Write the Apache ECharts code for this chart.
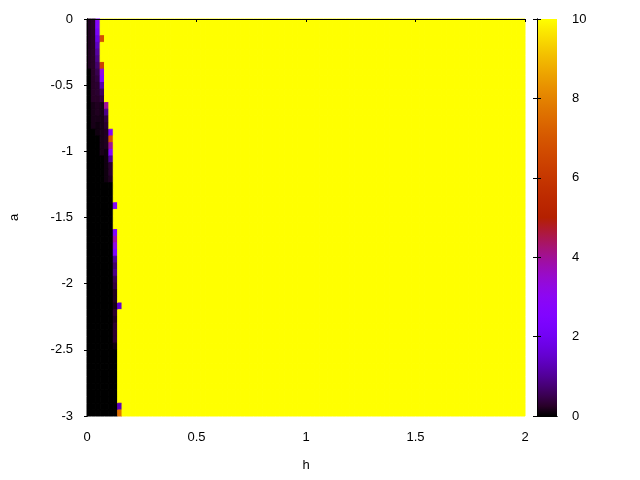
<!DOCTYPE html>
<html>
<head>
<meta charset="utf-8">
<script src="https://cdn.jsdelivr.net/npm/echarts@6/dist/echarts.min.js"></script>
<style>
  html, body { margin: 0; padding: 0; background: #fff; }
  #chart { width: 640px; height: 480px; }
</style>
</head>
<body>
<div id="chart"></div>
<script>
// grid of the map: h columns of width H_STEP, a rows centred on -m*A_STEP
var H_STEP = 0.02;
var A_STEP = 0.0505;
var N_COLS = 100;
var N_ROWS = 60;
var FAR_VALUE = 10; // everything right of the dark band is saturated

// values of the first 8 h-columns, top row (a=0) first
var col0 = [
  0.2,0.2,0.2,0.2,0.2,0.2,0.2,0.2,0,0,
  0,0,0,0,0,0,0,0,0,0,
  0,0,0,0,0,0,0,0,0,0,
  0,0,0,0,0,0,0,0,0,0,
  0,0,0,0,0,0,0,0,0,0,
  0,0,0,0,0,0,0,0,0,0
];
var col1 = [
  0.25,0.25,0.25,0.25,0.25,0.25,0.25,0.25,0.25,0.25,
  0.25,0.25,0.25,0.15,0.15,0.15,0.15,0,0,0,
  0,0,0,0,0,0,0,0,0,0,
  0,0,0,0,0,0,0,0,0,0,
  0,0,0,0,0,0,0,0,0,0,
  0,0,0,0,0,0,0,0,0,0
];
var col2 = [
  2.8,2.6,2.2,1.8,1.4,1.1,0.9,0.7,0.5,0.4,
  0.3,0.3,0.25,0.2,0.2,0.15,0.1,0.1,0,0,
  0,0,0,0,0,0,0,0,0,0,
  0,0,0,0,0,0,0,0,0,0,
  0,0,0,0,0,0,0,0,0,0,
  0,0,0,0,0,0,0,0,0,0
];
var col3 = [
  10,10,10,6.8,10,10,10,6.4,3.2,2.6,
  1.2,0.6,0.4,0.15,0.15,0.15,0.15,0.15,0.15,0.15,
  0.15,0,0,0,0,0,0,0,0,0,
  0,0,0,0,0,0,0,0,0,0,
  0,0,0,0,0,0,0,0,0,0,
  0,0,0,0,0,0,0,0,0,0
];
var col4 = [
  10,10,10,10,10,10,10,10,10,10,
  10,10,10,4.0,0.9,0.4,0.3,0.2,0.2,0.2,
  0.1,0.1,0.1,0.1,0.1,0,0,0,0,0,
  0,0,0,0,0,0,0,0,0,0,
  0,0,0,0,0,0,0,0,0,0,
  0,0,0,0,0,0,0,0,0,0
];
var col5 = [
  10,10,10,10,10,10,10,10,10,10,
  10,10,10,10,10,10,10,2.6,7.0,4.0,
  2.7,1.0,0.3,0.3,0.2,0,0,0,0,0,
  0,0,0,0,0,0,0,0,0,0,
  0,0,0,0,0,0,0,0,0,0,
  0,0,0,0,0,0,0,0,0,0
];
var col6 = [
  10,10,10,10,10,10,10,10,10,10,
  10,10,10,10,10,10,10,10,10,10,
  10,10,10,10,10,10,10,10,2.7,10,
  10,10,2.6,3.8,3.2,2.5,1.0,0.7,0.9,0.5,
  0.4,0.2,0.2,0.15,0.3,0.2,0.3,0.3,0.3,0.1,
  0,0,0,0,0,0,0,0,0,0
];
var col7 = [
  10,10,10,10,10,10,10,10,10,10,
  10,10,10,10,10,10,10,10,10,10,
  10,10,10,10,10,10,10,10,10,10,
  10,10,10,10,10,10,10,10,10,10,
  10,10,10,1.6,10,10,10,10,10,10,
  10,10,10,10,10,10,10,10,1.3,7.6
];
var leftCols = [col0, col1, col2, col3, col4, col5, col6, col7];

// gnuplot default palette (rgbformulae 7,5,15)
function pal(x) {
  var r = Math.sqrt(x), g = x * x * x, b = Math.max(0, Math.sin(2 * Math.PI * x));
  return 'rgb(' + Math.round(255 * r) + ',' + Math.round(255 * g) + ',' + Math.round(255 * b) + ')';
}
var palColors = [];
var gradStops = [];
for (var i = 0; i <= 40; i++) {
  palColors.push(pal(i / 40));
  gradStops.push({ offset: i / 40, color: pal(i / 40) });
}

var cells = [];
for (var k = 0; k < N_COLS; k++) {
  for (var m = 0; m < N_ROWS; m++) {
    var v = k < leftCols.length ? leftCols[k][m] : FAR_VALUE;
    cells.push([k * H_STEP, -m * A_STEP, v]);
  }
}

var font = { color: '#000', fontFamily: 'Liberation Sans', fontSize: 13 };
var lineBlack = { show: true, lineStyle: { color: '#000', width: 1 } };

var chart = echarts.init(document.getElementById('chart'));
chart.setOption({
  animation: false,
  backgroundColor: '#fff',
  grid: [
    { left: 85, top: 19, width: 440, height: 397 },
    { left: 537, top: 19, width: 20, height: 397 }
  ],
  xAxis: [
    {
      gridIndex: 0, type: 'value', min: 0, max: 2, interval: 0.5, z: 5,
      name: 'h', nameLocation: 'middle', nameGap: 43, nameTextStyle: font,
      axisLine: lineBlack, axisTick: { length: 3, lineStyle: { color: '#000' } },
      axisLabel: Object.assign({ margin: 15 }, font), splitLine: { show: false }
    },
    {
      gridIndex: 0, type: 'value', position: 'top', min: 0, max: 2, interval: 0.5, z: 5,
      axisLine: lineBlack, axisTick: { show: false }, axisLabel: { show: false }, splitLine: { show: false }
    },
    {
      gridIndex: 1, type: 'value', min: 0, max: 1, z: 5,
      axisLine: lineBlack, axisTick: { show: false }, axisLabel: { show: false }, splitLine: { show: false }
    },
    {
      gridIndex: 1, type: 'value', position: 'top', min: 0, max: 1, z: 5,
      axisLine: lineBlack, axisTick: { show: false }, axisLabel: { show: false }, splitLine: { show: false }
    }
  ],
  yAxis: [
    {
      gridIndex: 0, type: 'value', min: -3, max: 0, interval: 0.5, z: 5,
      name: 'a', nameLocation: 'middle', nameGap: 66, nameRotate: 90, nameTextStyle: font,
      axisLine: lineBlack, axisTick: { length: 3, lineStyle: { color: '#000' } },
      axisLabel: Object.assign({ margin: 14 }, font), splitLine: { show: false }
    },
    {
      gridIndex: 0, type: 'value', position: 'right', min: -3, max: 0, interval: 0.5, z: 5,
      axisLine: lineBlack, axisTick: { show: false }, axisLabel: { show: false }, splitLine: { show: false }
    },
    {
      gridIndex: 1, type: 'value', position: 'right', min: 0, max: 10, interval: 2, z: 5,
      axisLine: lineBlack, axisTick: { inside: true, length: 4, lineStyle: { color: '#000' } },
      axisLabel: Object.assign({ margin: 15 }, font), splitLine: { show: false }
    },
    {
      gridIndex: 1, type: 'value', position: 'left', min: 0, max: 10, interval: 2, z: 5,
      axisLine: lineBlack, axisTick: { inside: true, length: 4, lineStyle: { color: '#000' } },
      axisLabel: { show: false }, splitLine: { show: false }
    }
  ],
  visualMap: {
    type: 'continuous', show: false, min: 0, max: 10, dimension: 2, seriesIndex: 0,
    inRange: { color: palColors }
  },
  series: [
    {
      type: 'custom', xAxisIndex: 0, yAxisIndex: 0, data: cells, progressive: 0,
      renderItem: function (params, api) {
        var h = api.value(0), a = api.value(1);
        var p0 = api.coord([h, a + A_STEP / 2]);
        var p1 = api.coord([h + H_STEP, a - A_STEP / 2]);
        var rect = echarts.graphic.clipRectByRect(
          { x: p0[0], y: p0[1], width: p1[0] - p0[0], height: p1[1] - p0[1] },
          { x: params.coordSys.x, y: params.coordSys.y, width: params.coordSys.width, height: params.coordSys.height }
        );
        if (!rect) return;
        var c = api.visual('color');
        return { type: 'rect', shape: rect, style: { fill: c, stroke: c, lineWidth: 1 } };
      }
    },
    {
      // colour box
      type: 'custom', xAxisIndex: 2, yAxisIndex: 2, data: [[0, 0, 1, 10]],
      renderItem: function (params, api) {
        var p0 = api.coord([api.value(0), api.value(3)]);
        var p1 = api.coord([api.value(2), api.value(1)]);
        return {
          type: 'rect',
          shape: { x: p0[0], y: p0[1], width: p1[0] - p0[0], height: p1[1] - p0[1] },
          style: { fill: new echarts.graphic.LinearGradient(0, 1, 0, 0, gradStops) }
        };
      }
    }
  ]
});
</script>
</body>
</html>
